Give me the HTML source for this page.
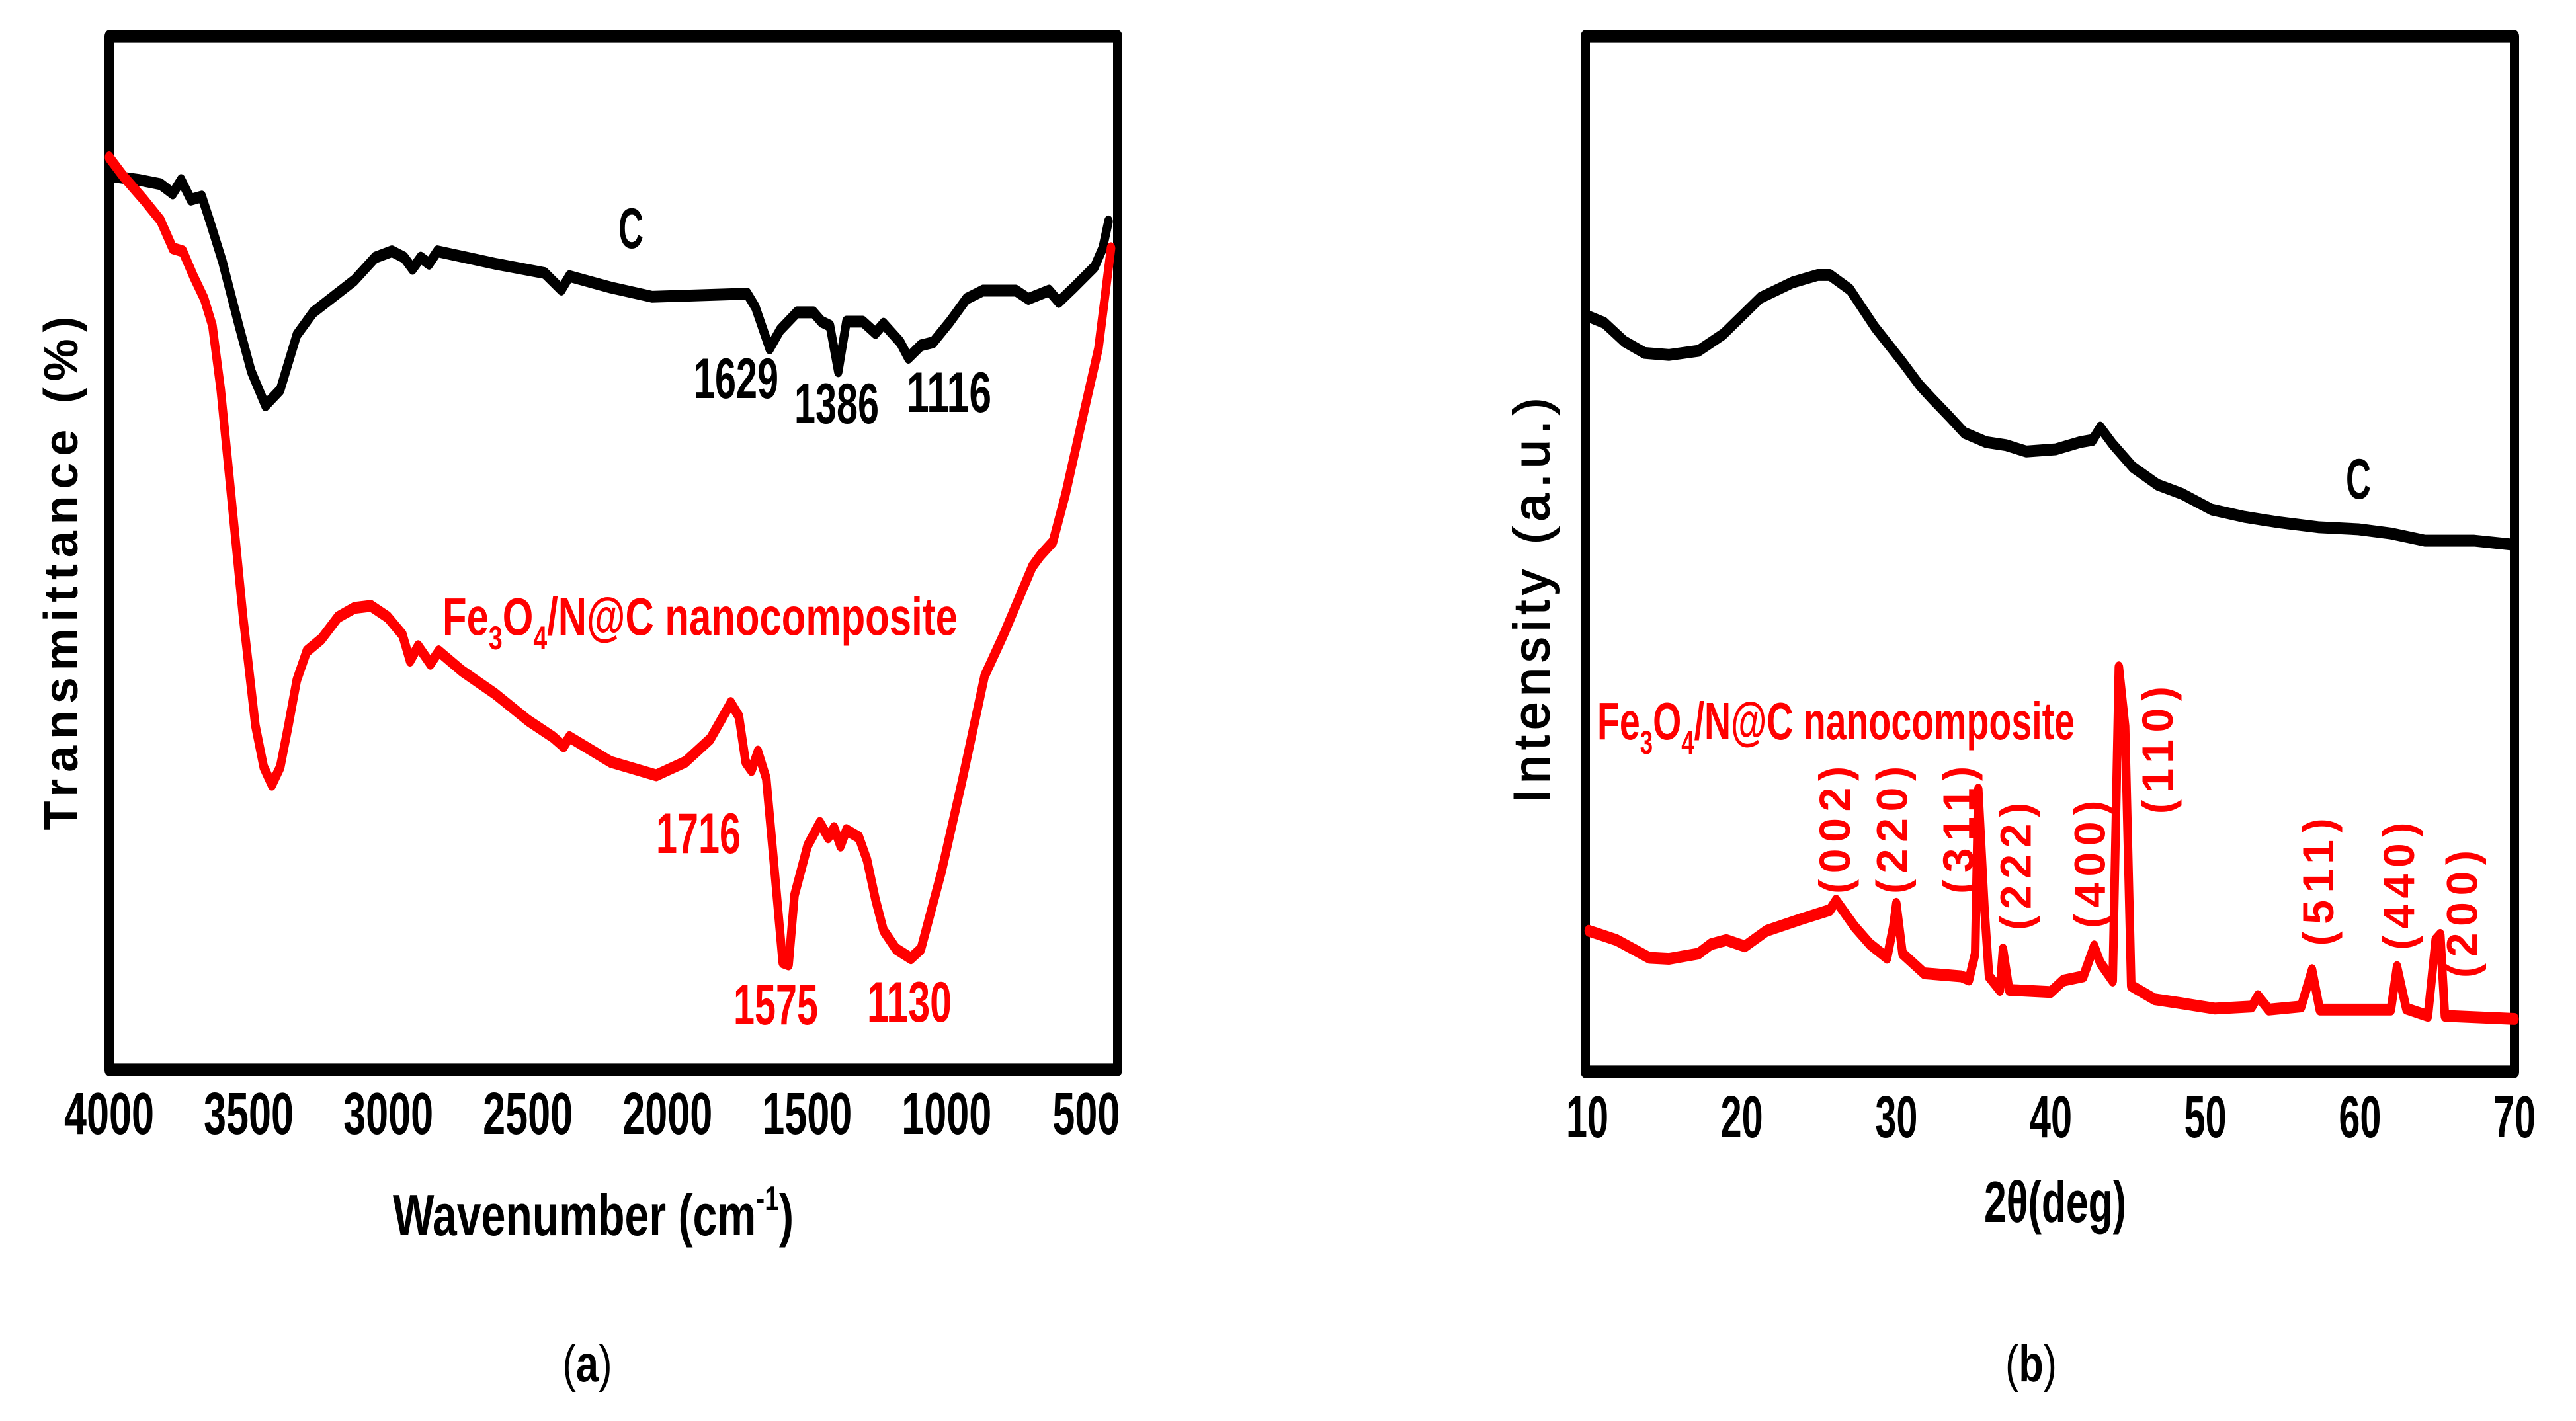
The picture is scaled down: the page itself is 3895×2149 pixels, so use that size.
<!DOCTYPE html>
<html><head><meta charset="utf-8"><style>
html,body{margin:0;padding:0;background:#fff}
svg{display:block}
text{font-family:"Liberation Sans",sans-serif}
</style></head><body>
<svg id="fig" width="3895" height="2149" viewBox="0 0 3895 2149" xmlns="http://www.w3.org/2000/svg" style="position:absolute;left:0;top:0">
<rect width="3895" height="2149" fill="#fff"/>
<g transform="scale(1,1.376)">
<g id="pa"></g>
<g id="pb"></g>
</g>
<g id="ta"></g>
<g id="tb"></g>
</svg>
<script>
// ---- Panel (a) FTIR data ----
const ftirTicks = [4000,3500,3000,2500,2000,1500,1000,500];
const cWave = [4000,3890,3816,3772,3742,3707,3668,3639,3594,3535,3491,3440,3387,3328,3269,3121,3047,2987,2943,2913,2884,2854,2824,2617,2440,2380,2351,2203,2055,1714,1685,1634,1596,1536,1477,1448,1418,1388,1359,1300,1255,1226,1166,1137,1092,1048,988,929,870,752,707,633,598,544,470,441,420];
const cTrans = [86.5,86.1,85.7,84.8,86.1,84.2,84.5,82.1,78.2,72.0,67.6,64.3,65.8,71.1,73.3,76.4,78.6,79.2,78.6,77.5,78.6,78.0,79.2,78.0,77.1,75.5,76.8,75.7,74.8,75.1,73.8,69.8,71.6,73.3,73.3,72.4,72.0,67.6,72.4,72.4,71.3,72.2,70.4,68.9,70.1,70.4,72.4,74.6,75.4,75.4,74.6,75.4,74.3,75.7,77.7,79.5,82.1];
const fWave = [4000,3950,3876,3816,3772,3736,3698,3659,3630,3600,3565,3520,3476,3446,3417,3387,3358,3328,3292,3239,3180,3121,3062,3002,2949,2922,2893,2849,2819,2736,2618,2499,2410,2372,2351,2203,2040,1936,1847,1773,1744,1720,1699,1676,1646,1616,1587,1566,1545,1498,1454,1424,1403,1380,1359,1314,1285,1255,1226,1181,1128,1092,1018,944,864,796,693,663,619,574,515,456,411];
const fTrans = [88.3,86.5,84.2,82.2,79.5,79.2,76.8,74.6,72.0,65.8,56.2,43.8,33.3,29.3,27.6,29.3,33.3,37.7,40.5,41.7,43.8,44.7,44.9,43.8,42.1,39.6,41.0,39.3,40.5,38.6,36.4,33.8,32.2,31.3,32.2,29.8,28.5,29.8,32.0,35.5,34.2,29.8,29.0,30.8,28.2,19.2,10.4,10.2,16.9,21.7,23.9,22.5,23.4,21.7,23.2,22.5,20.3,16.5,13.5,11.7,10.8,11.7,19.2,28.0,38.1,42.1,48.7,49.8,51.1,55.7,62.8,69.8,79.5];

// ---- Panel (b) XRD data ----
const xrdTicks = [10,20,30,40,50,60,70];
const cAngle = [10.1,11.1,12.4,13.7,15.3,17.2,18.8,21.2,23.3,24.9,25.7,27.0,28.6,30.4,31.5,32.3,33.4,34.4,35.8,37.1,38.4,40.3,41.9,42.7,43.2,44.0,45.3,46.9,48.5,50.4,52.5,54.6,57.3,59.9,62.0,64.2,67.4,70.0];
const cInt = [72.8,72.2,70.4,69.3,69.1,69.5,71.1,74.6,76.1,76.8,76.8,75.4,71.8,68.4,66.2,64.9,63.2,61.6,60.7,60.4,59.8,60.0,60.7,60.9,62.1,60.5,58.3,56.6,55.7,54.2,53.5,53.0,52.5,52.3,51.9,51.2,51.2,50.8];
const fAngle = [10.1,11.9,14.0,15.3,17.2,18.0,19.0,20.2,21.6,23.8,25.7,26.1,27.3,28.3,29.4,29.8,30.0,30.4,31.8,34.2,34.7,35.1,35.3,35.7,36.0,36.7,36.9,37.3,40.0,40.8,42.1,42.8,43.2,44.0,44.4,44.8,45.2,46.7,48.5,50.6,53.0,53.4,54.1,56.2,56.9,57.4,62.0,62.4,63.0,64.4,64.9,65.2,65.5,70.0];
const fInt = [13.6,12.7,11.0,10.9,11.4,12.3,12.7,12.1,13.6,14.7,15.6,16.5,14.0,12.3,11.0,14.0,16.2,11.4,9.5,9.2,8.9,11.4,27.2,15.8,9.2,7.9,11.8,7.9,7.7,8.8,9.2,12.1,10.5,8.8,39.0,33.3,8.3,7.0,6.6,6.1,6.3,7.3,6.0,6.3,9.8,6.0,6.0,10.1,6.1,5.4,12.7,13.2,5.4,5.1];
const hklLabels = ["(002)","(220)","(311)","(222)","(400)","(110)","(511)","(440)","(200)"];
const hklAngle = [26.0,29.7,34.0,37.7,42.5,46.9,57.3,62.5,66.6];
const hklInt = [23.3,23.3,23.3,19.8,20.0,31.0,18.3,17.9,15.2];

const NS="http://www.w3.org/2000/svg";
const SY=1.376;
function mk(tag, attrs, parent){const e=document.createElementNS(NS,tag);for(const k in attrs)e.setAttribute(k,attrs[k]);parent.appendChild(e);return e;}
function txt(parent,s,attrs){const t=mk('text',attrs,parent);t.textContent=s;return t;}

const ax = w => 165 + (4000-w)*0.4221;
const ay = T => 1618 - T*15.63;
const bx = t => 2400 + (t-10)*1402/60;
const by = I => 1621 - I*15.69;

const pa=document.getElementById('pa');
const pb=document.getElementById('pb');
const ta=document.getElementById('ta');
const tb=document.getElementById('tb');

let f=mk('rect',{x:165,y:55/SY,width:1525,height:(1618-55)/SY,fill:'none',stroke:'#000','stroke-width':14,'stroke-linejoin':'round'},pa);


f=mk('rect',{x:2397,y:55/SY,width:1405,height:(1621-55)/SY,fill:'none',stroke:'#000','stroke-width':14,'stroke-linejoin':'round'},pb);



function line(parent,xs,ys,fx,fy,color,name){
  const d=xs.map((v,i)=>(i?'L':'M')+fx(v).toFixed(1)+','+(fy(ys[i])/SY).toFixed(1)).join('');
  const p=mk('path',{d:d,fill:'none',stroke:color,'stroke-width':13,'stroke-linejoin':'round','stroke-linecap':'round'},parent);
  
  
}
line(pa,cWave,cTrans,ax,ay,'#000','carbon-ftir-line');
line(pa,fWave,fTrans,ax,ay,'#ff0000','nanocomposite-ftir-line');
line(pb,cAngle,cInt,bx,by,'#000','carbon-xrd-line');
line(pb,fAngle,fInt,bx,by,'#ff0000','nanocomposite-xrd-line');

ftirTicks.forEach(v=>{
  const s=String(v);
  const t=txt(ta,s,{x:ax(v),y:1715,'text-anchor':'middle','font-size':90,'font-weight':'bold',textLength:s.length*34,lengthAdjust:'spacingAndGlyphs'});
  
  
});
xrdTicks.forEach(v=>{
  const s=String(v);
  const t=txt(tb,s,{x:bx(v),y:1720,'text-anchor':'middle','font-size':90,'font-weight':'bold',textLength:64,lengthAdjust:'spacingAndGlyphs'});
  
  
});

hklLabels.forEach((s,i)=>{
  const x=bx(hklAngle[i]), y=by(hklInt[i]);
  const t=txt(tb,s,{x:0,y:0,'text-anchor':'middle','dominant-baseline':'central','font-size':66,'font-weight':'bold',fill:'#ff0000',textLength:193,lengthAdjust:'spacing',transform:`translate(${x.toFixed(1)},${y.toFixed(1)}) rotate(-90)`});
  
  
});
</script>
<svg style="position:absolute;left:0;top:0" width="3895" height="2149" xmlns="http://www.w3.org/2000/svg">
<g font-family="Liberation Sans, sans-serif" font-weight="bold">
<text transform="translate(117,867) rotate(-90)" text-anchor="middle" font-size="72" textLength="777" lengthAdjust="spacing">Transmittance (%)</text>
<text x="594" y="1868" font-size="88" textLength="606" lengthAdjust="spacingAndGlyphs">Wavenumber (cm<tspan font-size="52" dy="-38">-1</tspan><tspan dy="38">)</tspan></text>
<text x="954" y="375" text-anchor="middle" font-size="86" textLength="38" lengthAdjust="spacingAndGlyphs">C</text>
<text x="1113" y="602" text-anchor="middle" font-size="86" textLength="128" lengthAdjust="spacingAndGlyphs">1629</text>
<text x="1265" y="640" text-anchor="middle" font-size="86" textLength="128" lengthAdjust="spacingAndGlyphs">1386</text>
<text x="1435" y="623" text-anchor="middle" font-size="86" textLength="128" lengthAdjust="spacingAndGlyphs">1116</text>
<text x="669" y="960" font-size="80" fill="#ff0000" textLength="779" lengthAdjust="spacingAndGlyphs">Fe<tspan font-size="50" dy="22">3</tspan><tspan dy="-22">O</tspan><tspan font-size="50" dy="22">4</tspan><tspan dy="-22">/N@C nanocomposite</tspan></text>
<text x="1056" y="1290" text-anchor="middle" font-size="86" fill="#ff0000" textLength="128" lengthAdjust="spacingAndGlyphs">1716</text>
<text x="1173" y="1549" text-anchor="middle" font-size="86" fill="#ff0000" textLength="128" lengthAdjust="spacingAndGlyphs">1575</text>
<text x="1375" y="1545" text-anchor="middle" font-size="86" fill="#ff0000" textLength="128" lengthAdjust="spacingAndGlyphs">1130</text>
<text transform="translate(2342,908) rotate(-90)" text-anchor="middle" font-size="76" font-weight="normal" stroke="#000" stroke-width="2" textLength="613" lengthAdjust="spacing">Intensity (a.u.)</text>
<text x="3000" y="1848" font-size="88" textLength="215" lengthAdjust="spacingAndGlyphs">2θ(deg)</text>
<text x="3566" y="754" text-anchor="middle" font-size="86" textLength="38" lengthAdjust="spacingAndGlyphs">C</text>
<text x="2415" y="1118" font-size="80" fill="#ff0000" textLength="722" lengthAdjust="spacingAndGlyphs">Fe<tspan font-size="50" dy="22">3</tspan><tspan dy="-22">O</tspan><tspan font-size="50" dy="22">4</tspan><tspan dy="-22">/N@C nanocomposite</tspan></text>
</g>
<text x="888" y="2089" text-anchor="middle" font-family="Liberation Serif, serif" font-size="78" textLength="75" lengthAdjust="spacingAndGlyphs">(<tspan font-weight="bold">a</tspan>)</text>
<text x="3071" y="2089" text-anchor="middle" font-family="Liberation Serif, serif" font-size="78" textLength="78" lengthAdjust="spacingAndGlyphs">(<tspan font-weight="bold">b</tspan>)</text>
</svg>
</body></html>
